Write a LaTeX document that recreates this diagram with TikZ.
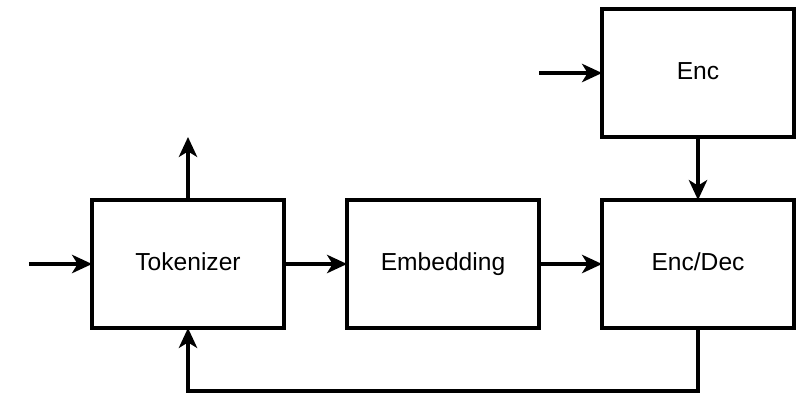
\documentclass[tikz,border=0pt]{standalone}
\usepackage{fontspec}
\setmainfont{Liberation Sans}
\usetikzlibrary{arrows.meta,positioning,calc}
\tikzset{
  blok/.style={rectangle, draw, line width=2.2pt, outer sep=0pt,
               minimum width=4.8cm, minimum height=3.2cm, text height=.95em, text depth=0pt,
               font=\fontsize{17.5}{20}\selectfont},
  arr/.style={-{Stealth[length=5mm,width=4.6mm,inset=1.4mm]}, line width=2.2pt},
}

\begin{document}
\begin{tikzpicture}[node distance=1.575cm]
        \useasboundingbox (0,0) rectangle (20.25,-10.35);
        \node[blok] (tok) at (4.7,-6.6) {Tokenizer};
        \node[blok, right=of tok] (emb) {Embedding};
        \node[blok, right=of emb] (ed) {Enc/Dec};
        \node[blok, above=of ed] (enc) {Enc};
        \coordinate[left=of tok] (in);
        \coordinate[above=of tok] (out);
        \coordinate[left=of enc] (encin);
        \coordinate (fb) at ($(ed.south)+(0,-1.575)$);
        \draw[arr] (in) -- (tok); \draw[arr] (tok) -- (out);
        \draw[arr] (tok) -- (emb); \draw[arr] (emb) -- (ed);
        \draw[arr] (encin) -- (enc); \draw[arr] (enc) -- (ed);
        \draw[arr] (ed.south) -- (fb) -| (tok.south);
      \end{tikzpicture}
\end{document}
